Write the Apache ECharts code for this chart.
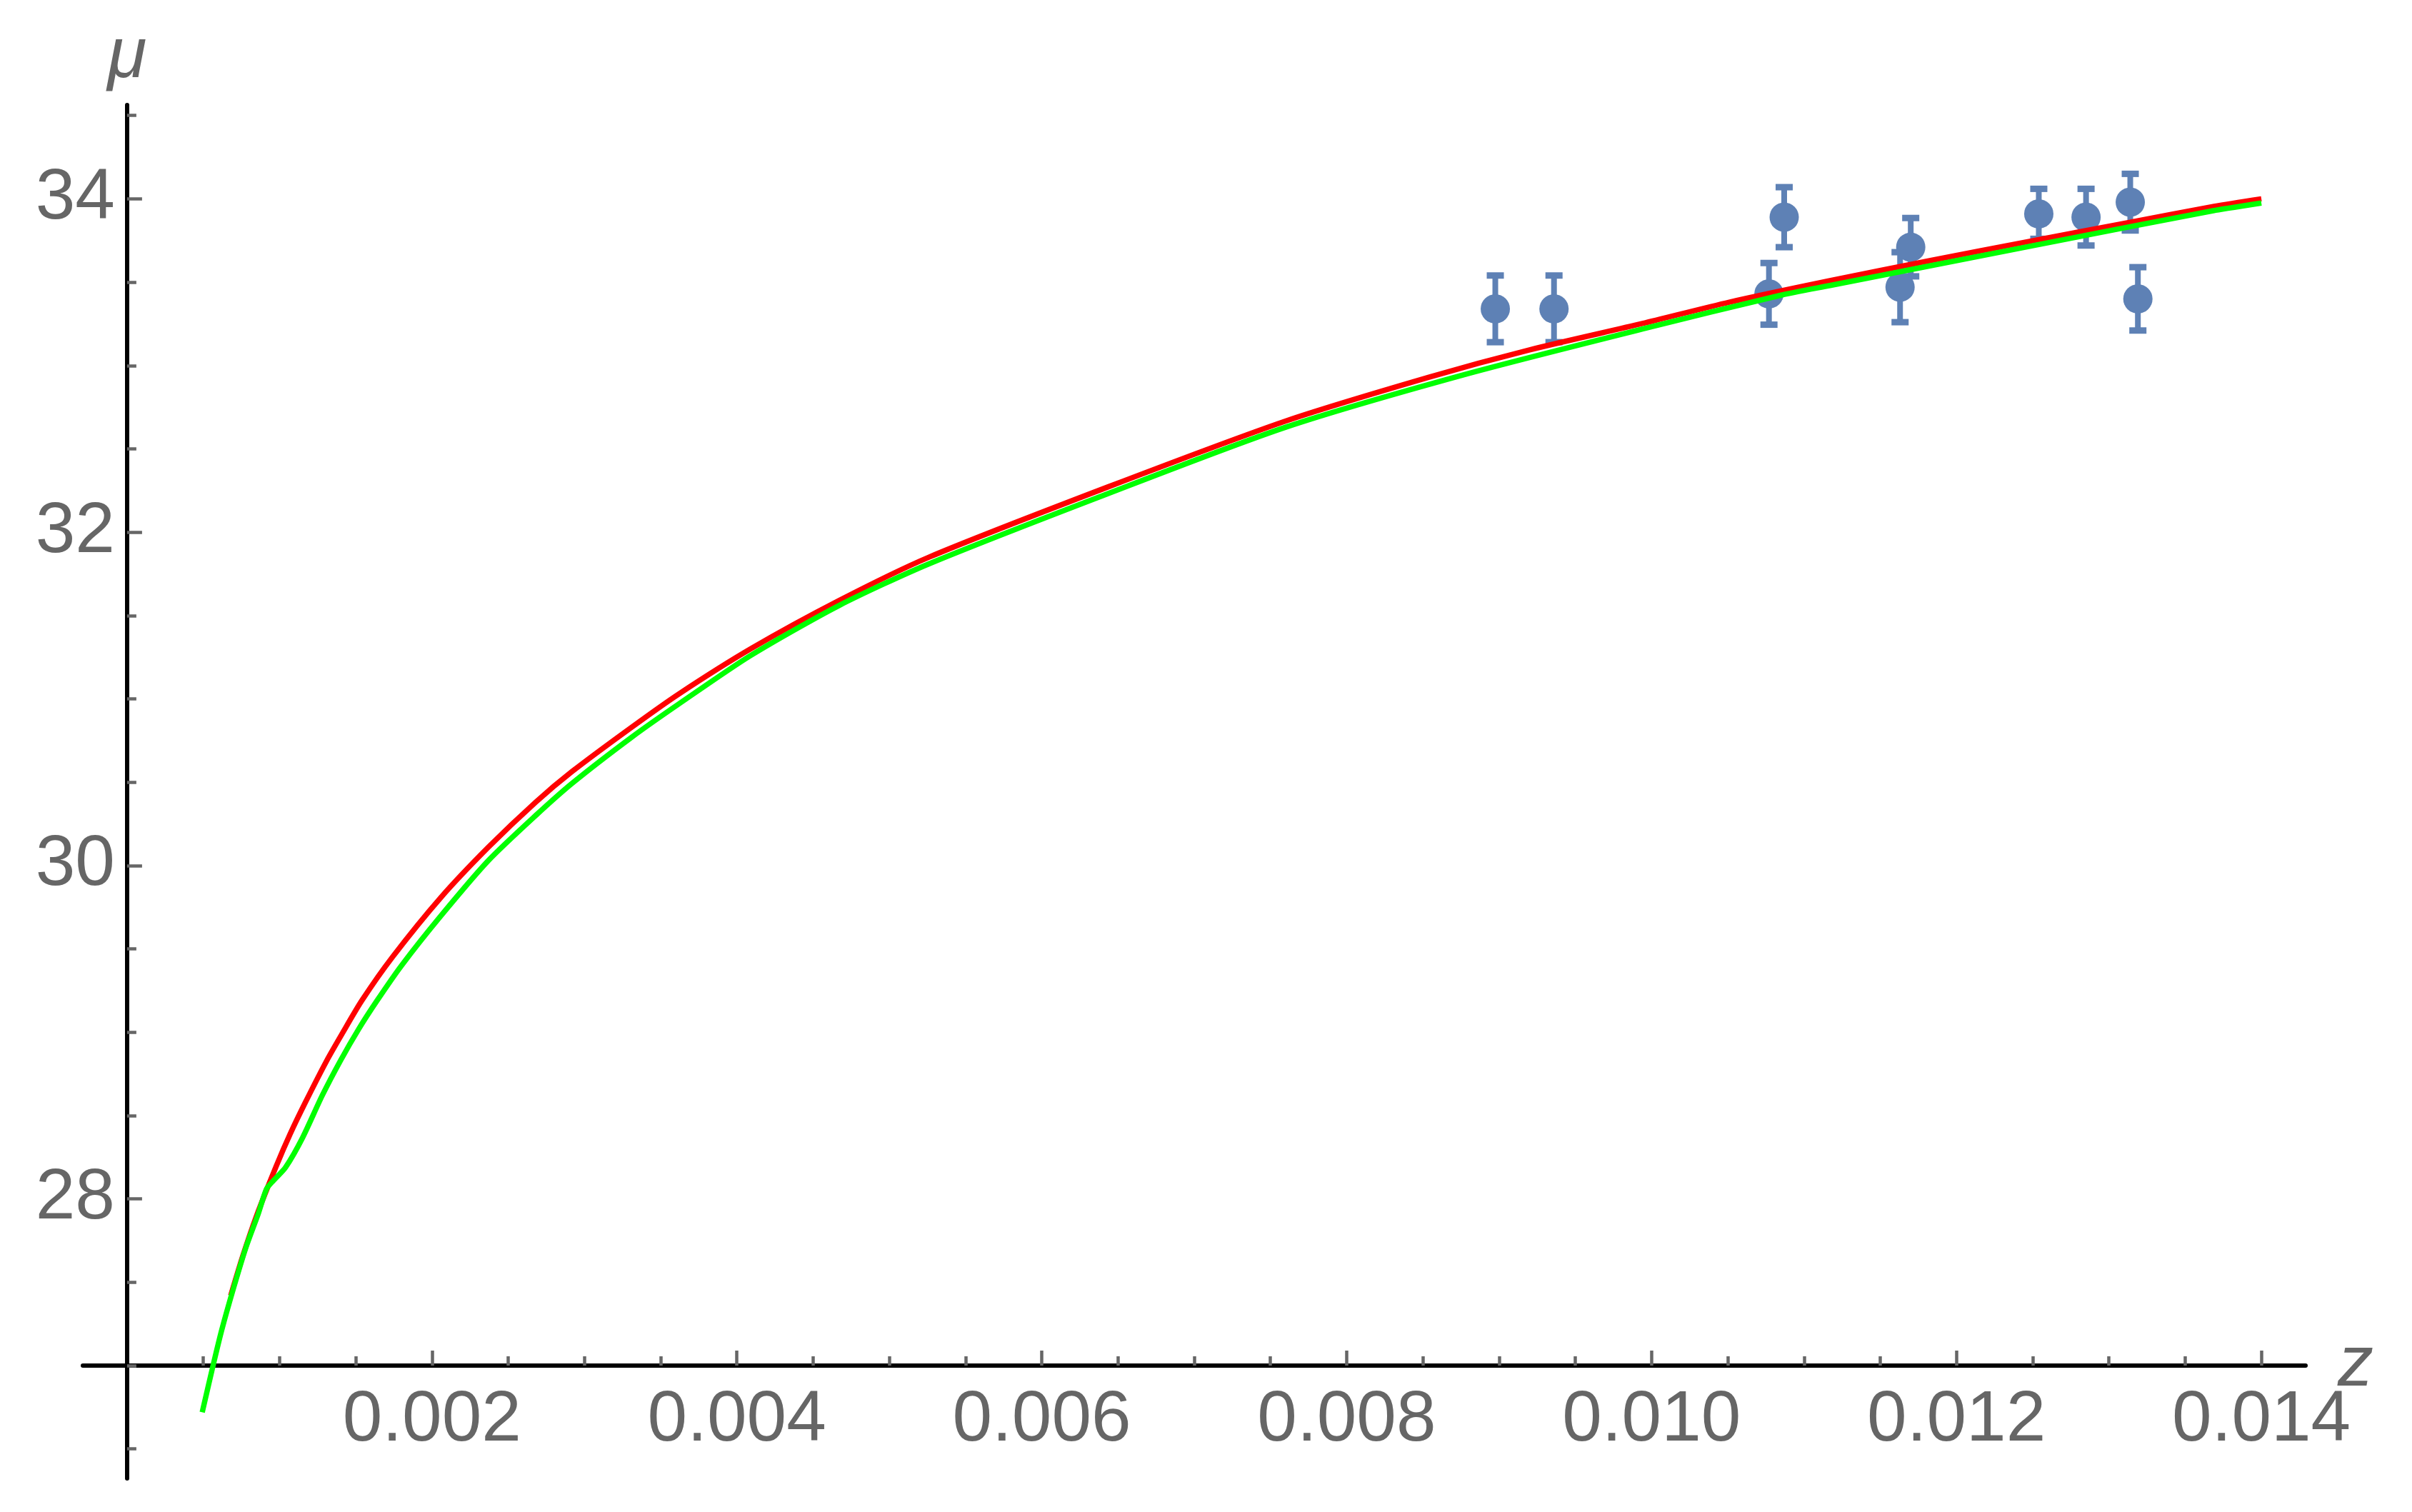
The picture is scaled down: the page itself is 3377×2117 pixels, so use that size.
<!DOCTYPE html>
<html>
<head>
<meta charset="utf-8">
<script src="https://cdn.jsdelivr.net/npm/echarts@6/dist/echarts.min.js"></script>
<style>
html,body{margin:0;padding:0;background:#ffffff;}
#chart{width:3377px;height:2117px;}
</style>
</head>
<body>
<div id="chart"></div>
<script>
// ---- data ----
const redZ  = [0.00068,0.00076,0.00085,0.00098,0.00107,0.00117,0.00131,0.00141,0.00154,0.00174,0.00206,0.00237,0.00268,0.00292,0.00331,0.00362,0.00409,0.00467,0.00526,0.00643,0.00760,0.00854,0.00920,0.00994,0.01051,0.01117,0.01183,0.01248,0.01314,0.01369,0.01400];
const redMu = [27.42,27.66,27.90,28.20,28.39,28.58,28.83,28.99,29.19,29.45,29.81,30.11,30.38,30.565,30.83,31.03,31.30,31.59,31.85,32.27,32.667,32.93,33.094,33.252,33.38,33.509,33.63,33.745,33.86,33.955,34.00];

const greenZ  = [0.000493,0.000564,0.00062,0.00070,0.00078,0.00086,0.000915,0.00096,0.00104,0.00115,0.00128,0.00140,0.00152,0.00164,0.00180,0.00206,0.00237,0.00268,0.00292,0.00331,0.00362,0.00409,0.00467,0.00526,0.00643,0.00760,0.00877,0.00994,0.01084,0.01117,0.01248,0.01369,0.01400];
const greenMu = [26.72,27.00,27.21,27.47,27.71,27.91,28.06,28.11,28.19,28.365,28.62,28.83,29.02,29.19,29.40,29.70,30.03,30.30,30.494,30.77,30.97,31.26,31.56,31.81,32.23,32.63,32.945,33.219,33.42,33.48,33.715,33.93,33.975];

const pointZ   = [0.008975,0.00936,0.01077,0.01087,0.01163,0.01170,0.01254,0.01285,0.01314,0.01319];
const pointMu  = [33.34,33.34,33.43,33.89,33.47,33.71,33.91,33.89,33.98,33.40];
const pointErr = [0.20,0.20,0.185,0.18,0.21,0.175,0.15,0.17,0.17,0.19];

const xMajorTicks = [0.002,0.004,0.006,0.008,0.010,0.012,0.014];
const xMinorTicks = [0.0005,0.001,0.0015,0.0025,0.003,0.0035,0.0045,0.005,0.0055,0.0065,0.007,0.0075,0.0085,0.009,0.0095,0.0105,0.011,0.0115,0.0125,0.013,0.0135];
const yMajorTicks = [28,30,32,34];
const yMinorTicks = [26.5,27,27.5,28.5,29,29.5,30.5,31,31.5,32.5,33,33.5,34.5];

const xMin = -0.00029, xMax = 0.01429;
const yMin = 26.323, yMax = 34.563;
const yCross = 27;   // x axis drawn at mu = 27
const xCross = 0;    // y axis drawn at z = 0

// ---- layout ----
const W = 3377, Hpx = 2117;
const gridLeft = 116, gridRight = 149, gridTop = 147, gridBottom = 47;
const plotH = Hpx - gridTop - gridBottom;
const plotW = W - gridLeft - gridRight;
const xAxisOffset = -plotH * (yCross - yMin) / (yMax - yMin);
const yAxisOffset = -plotW * (xCross - xMin) / (xMax - xMin);

const labelColor = '#666666';
const tickColor = '#666666';
const font = '"Liberation Sans", Arial, Helvetica, sans-serif';
const pointColor = '#5E81B5';

const chart = echarts.init(document.getElementById('chart'), null, {renderer: 'canvas'});

const redData = redZ.map((z, i) => [z, redMu[i]]);
const greenData = greenZ.map((z, i) => [z, greenMu[i]]);
const pointData = pointZ.map((z, i) => [z, pointMu[i]]);
const errData = pointZ.map((z, i) => [z, pointMu[i] - pointErr[i], pointMu[i] + pointErr[i]]);

const option = {
  animation: false,
  backgroundColor: '#ffffff',
  grid: {left: gridLeft, right: gridRight, top: gridTop, bottom: gridBottom, containLabel: false, outerBoundsMode: 'none'},
  xAxis: [
    {
      type: 'value', min: xMin, max: xMax, position: 'bottom', offset: xAxisOffset,
      name: 'z', nameLocation: 'end', nameGap: 45, nameMoveOverlap: false,
      nameTextStyle: {fontFamily: font, fontSize: 100, fontStyle: 'italic', color: labelColor, padding: [30, 0, 0, 0]},
      axisLine: {show: true, onZero: false, lineStyle: {color: '#000000', width: 6}},
      axisTick: {show: true, inside: true, length: 21, customValues: xMajorTicks, lineStyle: {color: tickColor, width: 4.5}},
      axisLabel: {show: true, customValues: xMajorTicks, margin: 27, fontFamily: font, fontSize: 100, color: labelColor,
                  formatter: v => v.toFixed(3)},
      splitLine: {show: false}
    },
    {
      type: 'value', min: xMin, max: xMax, position: 'bottom', offset: xAxisOffset,
      axisLine: {show: false, onZero: false},
      axisTick: {show: true, inside: true, length: 13, customValues: xMinorTicks, lineStyle: {color: tickColor, width: 4.5}},
      axisLabel: {show: false},
      splitLine: {show: false}
    }
  ],
  yAxis: [
    {
      type: 'value', min: yMin, max: yMax, position: 'left', offset: yAxisOffset,
      name: 'μ', nameLocation: 'end', nameGap: 17, nameMoveOverlap: false,
      nameTextStyle: {fontFamily: font, fontSize: 100, fontStyle: 'italic', color: labelColor},
      axisLine: {show: true, onZero: false, lineStyle: {color: '#000000', width: 6}},
      axisTick: {show: true, inside: true, length: 21, customValues: yMajorTicks, lineStyle: {color: tickColor, width: 4.5}},
      axisLabel: {show: true, customValues: yMajorTicks, margin: 17, fontFamily: font, fontSize: 100, color: labelColor,
                  formatter: v => String(v)},
      splitLine: {show: false}
    },
    {
      type: 'value', min: yMin, max: yMax, position: 'left', offset: yAxisOffset,
      axisLine: {show: false, onZero: false},
      axisTick: {show: true, inside: true, length: 13, customValues: yMinorTicks, lineStyle: {color: tickColor, width: 4.5}},
      axisLabel: {show: false},
      splitLine: {show: false}
    }
  ],
  series: [
    {
      type: 'custom', name: 'errors', z: 2,
      xAxisIndex: 0, yAxisIndex: 0,
      encode: {x: 0, y: [1, 2]},
      data: errData,
      renderItem: function (params, api) {
        const x = api.value(0), lo = api.value(1), hi = api.value(2);
        const pLo = api.coord([x, lo]);
        const pHi = api.coord([x, hi]);
        const capW = 24, capH = 9, stemW = 8;
        return {
          type: 'group',
          children: [
            {type: 'rect', shape: {x: pLo[0] - stemW / 2, y: pHi[1], width: stemW, height: pLo[1] - pHi[1]}, style: {fill: pointColor}},
            {type: 'rect', shape: {x: pHi[0] - capW / 2, y: pHi[1] - capH / 2, width: capW, height: capH}, style: {fill: pointColor}},
            {type: 'rect', shape: {x: pLo[0] - capW / 2, y: pLo[1] - capH / 2, width: capW, height: capH}, style: {fill: pointColor}}
          ]
        };
      }
    },
    {
      type: 'scatter', name: 'data', z: 3,
      xAxisIndex: 0, yAxisIndex: 0,
      symbol: 'circle', symbolSize: 41,
      itemStyle: {color: pointColor, opacity: 1},
      data: pointData
    },
    {
      type: 'line', name: 'red', z: 4,
      xAxisIndex: 0, yAxisIndex: 0,
      showSymbol: false, symbol: 'none', smooth: 0.25,
      lineStyle: {color: '#FF0000', width: 7.5},
      data: redData
    },
    {
      type: 'line', name: 'green', z: 5,
      xAxisIndex: 0, yAxisIndex: 0,
      showSymbol: false, symbol: 'none', smooth: 0.25,
      lineStyle: {color: '#00FF00', width: 7.5},
      data: greenData
    }
  ]
};

chart.setOption(option);
</script>
</body>
</html>
